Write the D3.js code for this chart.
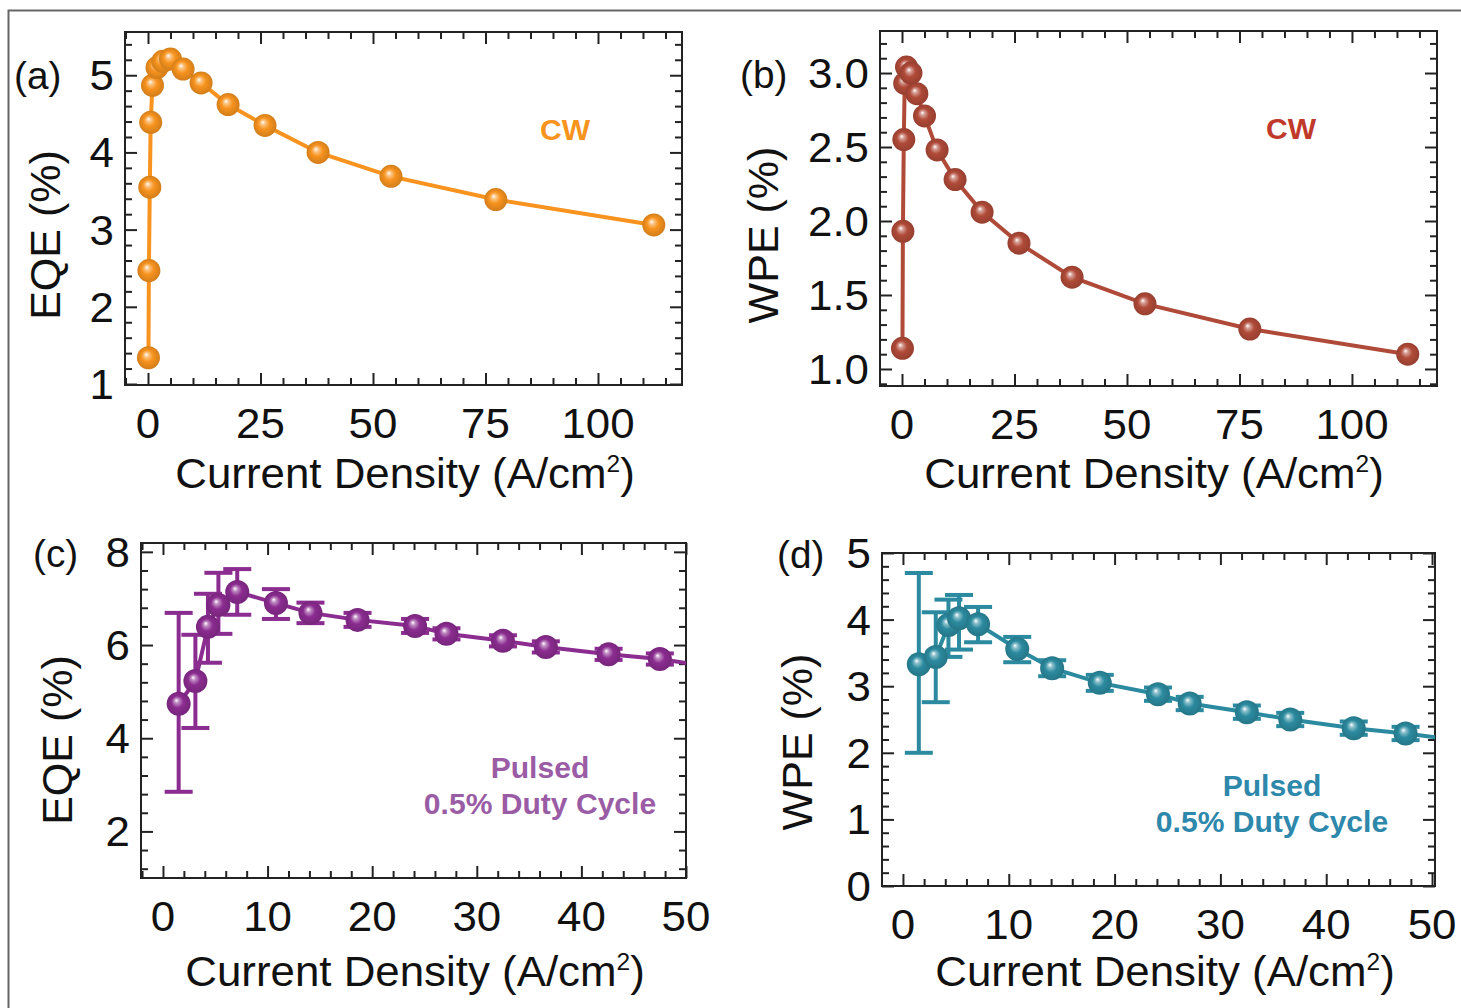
<!DOCTYPE html>
<html>
<head>
<meta charset="utf-8">
<script src="https://cdn.jsdelivr.net/npm/d3@7"></script>
<style>
body { margin: 0; background: #fff; }
text { font-family: "Liberation Sans", Arial, sans-serif; fill: #111; }
</style>
</head>
<body>
<svg id="chart" width="1461" height="1008"></svg>
<script>
// ---- data ----
var cwCurrent = [0.1, 0.2, 0.4, 0.6, 1.0, 2.0, 3.3, 5.0, 7.8, 11.8, 17.8, 26.0, 37.8, 54.0, 77.3, 112.4];
var cwEqe = [1.34, 2.47, 3.55, 4.39, 4.87, 5.10, 5.18, 5.21, 5.08, 4.90, 4.62, 4.35, 4.00, 3.69, 3.39, 3.06];
var cwWpe = [1.14, 1.93, 2.55, 2.93, 3.04, 3.00, 2.86, 2.71, 2.48, 2.28, 2.06, 1.85, 1.62, 1.44, 1.27, 1.10];

var pulsedCurrent = [1.5, 3.1, 4.3, 5.3, 7.1, 10.8, 14.1, 18.6, 24.1, 27.1, 32.5, 36.6, 42.6, 47.5, 52.0];
var pulsedEqe   = [4.74, 5.23, 6.39, 6.86, 7.14, 6.90, 6.69, 6.54, 6.41, 6.24, 6.09, 5.96, 5.80, 5.70, 5.55];
var pulsedEqeLo = [2.85, 4.22, 5.62, 6.24, 6.65, 6.56, 6.47, 6.39, 6.26, 6.12, 5.97, 5.84, 5.68, 5.58, 5.43];
var pulsedEqeHi = [6.69, 6.22, 7.10, 7.55, 7.63, 7.20, 6.91, 6.69, 6.56, 6.36, 6.21, 6.08, 5.92, 5.82, 5.67];
var pulsedWpe   = [3.33, 3.44, 3.92, 4.02, 3.93, 3.56, 3.27, 3.05, 2.88, 2.74, 2.61, 2.50, 2.37, 2.29, 2.20];
var pulsedWpeLo = [2.00, 2.76, 3.44, 3.55, 3.66, 3.36, 3.15, 2.93, 2.78, 2.64, 2.51, 2.40, 2.27, 2.19, 2.10];
var pulsedWpeHi = [4.70, 4.11, 4.30, 4.37, 4.19, 3.74, 3.39, 3.17, 2.98, 2.84, 2.71, 2.60, 2.47, 2.39, 2.30];

// tick labels
var cwXTicks = [0, 25, 50, 75, 100];
var eqeCwTicks = [1, 2, 3, 4, 5];
var wpeCwTicks = [1.0, 1.5, 2.0, 2.5, 3.0];
var pulsedXTicks = [0, 10, 20, 30, 40, 50];
var eqePulsedTicks = [2, 4, 6, 8];
var wpePulsedTicks = [0, 1, 2, 3, 4, 5];

var svg = d3.select("#chart");
svg.append("rect").attr("width", 1461).attr("height", 1008).attr("fill", "#fff");
// outer frame (top + left only)
svg.append("path").attr("d", "M8.5,1008V10.5H1461")
    .attr("fill", "none").attr("stroke", "#666").attr("stroke-width", 2);

var defs = svg.append("defs");
var SX = 1.02;   // slight horizontal stretch of the text
var FS = 43;     // main font size

function addText(g, x, y, str, size, opts) {
    opts = opts || {};
    var t = g.append("text")
        .attr("transform", "translate(" + x + "," + y + ") scale(" + SX + ",1)")
        .attr("text-anchor", opts.anchor || "middle")
        .attr("font-size", size)
        .text(str);
    if (opts.weight) t.attr("font-weight", opts.weight);
    if (opts.fill) t.style("fill", opts.fill);
    return t;
}

function minorTicks(dom, step, majors) {
    var lo = Math.ceil(dom[0] / step - 1e-6), hi = Math.floor(dom[1] / step + 1e-6);
    return d3.range(lo, hi + 1).map(function(i) { return +(i * step).toFixed(4); })
        .filter(function(v) { return majors.indexOf(v) < 0; });
}

function drawPanel(p) {
    var g = svg.append("g");
    var x0 = p.box[0], y0 = p.box[1], x1 = p.box[2], y1 = p.box[3];
    var x = d3.scaleLinear().domain(p.xDom).range([x0, x1]);
    var y = d3.scaleLinear().domain(p.yDom).range([y1, y0]);

    // gradient for the spheres
    var grad = defs.append("radialGradient").attr("id", "g" + p.id)
        .attr("cx", "50%").attr("cy", "50%").attr("r", "50%").attr("fx", "40%").attr("fy", "35%");
    grad.append("stop").attr("offset", "0%").attr("stop-color", "#ffffff");
    grad.append("stop").attr("offset", "20%").attr("stop-color", d3.interpolateRgb(p.color, "#fff")(0.45));
    grad.append("stop").attr("offset", "50%").attr("stop-color", p.color);
    grad.append("stop").attr("offset", "100%").attr("stop-color", d3.color(p.color).darker(0.45));

    defs.append("clipPath").attr("id", "clip" + p.id)
        .append("rect").attr("x", x0).attr("y", y0).attr("width", x1 - x0).attr("height", y1 - y0);

    // ticks (inward, all four sides)
    var xMinor = minorTicks(p.xDom, p.xStep, p.xTicks);
    var yMinor = minorTicks(p.yDom, p.yStep, p.yTicks);
    var sides = [
        [d3.axisBottom(x), "translate(0," + y1 + ")", p.xTicks, xMinor],
        [d3.axisTop(x), "translate(0," + y0 + ")", p.xTicks, xMinor],
        [d3.axisLeft(y), "translate(" + x0 + ",0)", p.yTicks, yMinor],
        [d3.axisRight(y), "translate(" + x1 + ",0)", p.yTicks, yMinor]
    ];
    sides.forEach(function(s) {
        var major = s[0].tickValues(s[2]).tickSize(-12).tickFormat("");
        var ga = g.append("g").attr("transform", s[1]).call(major);
        ga.select(".domain").remove();
        ga.selectAll("line").attr("stroke", "#222").attr("stroke-width", 2);
        var minor = s[0].tickValues(s[3]).tickSize(-7).tickFormat("");
        var gm = g.append("g").attr("transform", s[1]).call(minor);
        gm.select(".domain").remove();
        gm.selectAll("line").attr("stroke", "#222").attr("stroke-width", 2);
    });

    g.append("rect").attr("x", x0).attr("y", y0).attr("width", x1 - x0).attr("height", y1 - y0)
        .attr("fill", "none").attr("stroke", "#222").attr("stroke-width", 2);

    // tick labels
    p.xTicks.forEach(function(v) {
        addText(g, x(v), y1 + 53, String(v), FS);
    });
    p.yTicks.forEach(function(v) {
        addText(g, x0 - 11, y(v) + 15, p.yFmt(v), FS, {anchor: "end"});
    });

    // axis titles
    var t = addText(g, p.xTitleX, p.xTitleY, "Current Density (A/cm", FS);
    t.append("tspan").attr("font-size", 24).attr("dy", -16).text("2");
    t.append("tspan").attr("dy", 16).text(")");
    g.append("text")
        .attr("transform", "translate(" + p.yTitle[0] + "," + p.yTitle[1] + ") rotate(-90)")
        .attr("text-anchor", "middle").attr("font-size", 43).text(p.yLabel);

    addText(g, p.tag[0], p.tag[1], p.tagText, 38, {anchor: "start"});
    p.notes.forEach(function(n) {
        addText(g, n[0], n[1], n[2], 29.5, {weight: "bold", fill: p.noteColor});
    });

    // data
    var pts = p.xs.map(function(v, i) { return {x: v, y: p.ys[i], lo: p.lo ? p.lo[i] : null, hi: p.hi ? p.hi[i] : null}; });
    var plot = g.append("g").attr("clip-path", "url(#clip" + p.id + ")");
    var line = d3.line().x(function(d) { return x(d.x); }).y(function(d) { return y(d.y); });
    plot.append("path").datum(pts).attr("d", line)
        .attr("fill", "none").attr("stroke", p.color).attr("stroke-width", 4);

    if (p.lo) {
        var eb = plot.selectAll(".eb").data(pts).enter().append("g");
        eb.append("line").attr("x1", function(d) { return x(d.x); }).attr("x2", function(d) { return x(d.x); })
            .attr("y1", function(d) { return y(d.lo); }).attr("y2", function(d) { return y(d.hi); });
        eb.append("line").attr("x1", function(d) { return x(d.x) - 14; }).attr("x2", function(d) { return x(d.x) + 14; })
            .attr("y1", function(d) { return y(d.lo); }).attr("y2", function(d) { return y(d.lo); });
        eb.append("line").attr("x1", function(d) { return x(d.x) - 14; }).attr("x2", function(d) { return x(d.x) + 14; })
            .attr("y1", function(d) { return y(d.hi); }).attr("y2", function(d) { return y(d.hi); });
        eb.selectAll("line").attr("stroke", p.color).attr("stroke-width", 4);
    }

    plot.selectAll("circle").data(pts).enter().append("circle")
        .attr("cx", function(d) { return x(d.x); })
        .attr("cy", function(d) { return y(d.y); })
        .attr("r", p.r)
        .attr("fill", "url(#g" + p.id + ")");
}

var f1 = d3.format(".1f");
var f0 = function(v) { return String(v); };

drawPanel({
    id: "a", box: [125, 32, 682, 385], xDom: [-5.11, 118.67], yDom: [0.987, 5.56],
    xTicks: cwXTicks, xStep: 5, yTicks: eqeCwTicks, yStep: 0.2, yFmt: f0,
    xs: cwCurrent, ys: cwEqe, color: "#f7931e", r: 11.5,
    xTitleX: 405, xTitleY: 488, yTitle: [60, 235], yLabel: "EQE (%)",
    tag: [14, 89], tagText: "(a)",
    notes: [[565, 140, "CW"]], noteColor: "#f7941d"
});

drawPanel({
    id: "b", box: [880, 31, 1437, 386], xDom: [-4.89, 118.9], yDom: [0.885, 3.284],
    xTicks: cwXTicks, xStep: 5, yTicks: wpeCwTicks, yStep: 0.1, yFmt: f1,
    xs: cwCurrent, ys: cwWpe, color: "#b04a38", r: 11.5,
    xTitleX: 1154, xTitleY: 488, yTitle: [778, 235], yLabel: "WPE (%)",
    tag: [740, 88], tagText: "(b)",
    notes: [[1291, 139, "CW"]], noteColor: "#c0392b"
});

drawPanel({
    id: "c", box: [141, 543, 686, 878], xDom: [-2.1, 50], yDom: [1.0, 8.19],
    xTicks: pulsedXTicks, xStep: 2, yTicks: eqePulsedTicks, yStep: 0.4, yFmt: f0,
    xs: pulsedCurrent, ys: pulsedEqe, lo: pulsedEqeLo, hi: pulsedEqeHi, color: "#8b2c90", r: 12,
    xTitleX: 415, xTitleY: 986, yTitle: [72, 740], yLabel: "EQE (%)",
    tag: [33, 567], tagText: "(c)",
    notes: [[540, 778, "Pulsed"], [540, 814, "0.5% Duty Cycle"]], noteColor: "#9a5ca4"
});

drawPanel({
    id: "d", box: [882, 553, 1435, 886], xDom: [-1.98, 50.28], yDom: [0, 5],
    xTicks: pulsedXTicks, xStep: 2, yTicks: wpePulsedTicks, yStep: 0.2, yFmt: f0,
    xs: pulsedCurrent, ys: pulsedWpe, lo: pulsedWpeLo, hi: pulsedWpeHi, color: "#2b8a9f", r: 12,
    xTitleX: 1165, xTitleY: 986, yTitle: [812, 742], yLabel: "WPE (%)",
    tag: [777, 568], tagText: "(d)",
    notes: [[1272, 796, "Pulsed"], [1272, 832, "0.5% Duty Cycle"]], noteColor: "#2e88ab"
});
</script>
</body>
</html>
